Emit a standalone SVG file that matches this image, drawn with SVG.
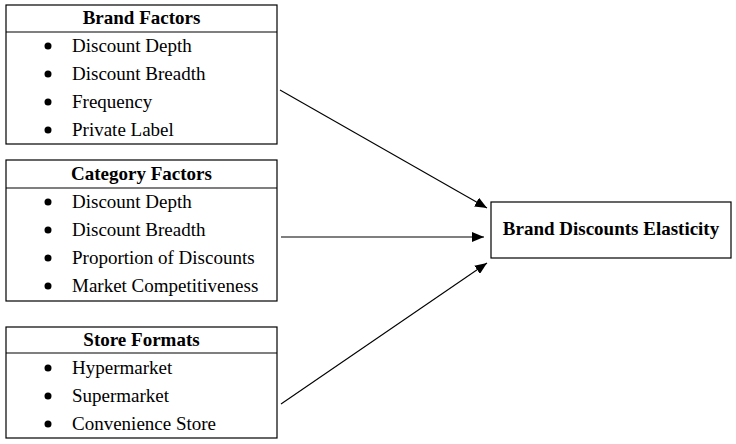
<svg xmlns="http://www.w3.org/2000/svg" width="736" height="444" viewBox="0 0 736 444">
<style>
.box{fill:#fff;stroke:#000;stroke-width:1.2}
.div{stroke:#000;stroke-width:1.2}
.h{font-family:"Liberation Serif","Times New Roman",serif;font-weight:bold;font-size:19px;text-anchor:middle;fill:#000}
.t{font-family:"Liberation Serif","Times New Roman",serif;font-size:19px;fill:#000}
.b{fill:#000}
.c{stroke:#000;stroke-width:1.1;fill:none}
</style>
<defs>
<marker id="ah" markerWidth="12" markerHeight="10" refX="12" refY="5" orient="auto" markerUnits="userSpaceOnUse">
<path d="M0,0 L12,5 L0,10 Z" fill="#000"/>
</marker>
</defs>
<g id="brand-factors">
<rect class="box" x="6" y="5" width="271" height="139"/>
<line class="div" x1="6" y1="32" x2="277" y2="32"/>
<text class="h" x="141.5" y="24">Brand Factors</text>
<circle class="b" cx="48" cy="46" r="3.5"/><text class="t" x="72" y="52">Discount Depth</text>
<circle class="b" cx="48" cy="74" r="3.5"/><text class="t" x="72" y="80">Discount Breadth</text>
<circle class="b" cx="48" cy="102" r="3.5"/><text class="t" x="72" y="108">Frequency</text>
<circle class="b" cx="48" cy="130" r="3.5"/><text class="t" x="72" y="136">Private Label</text>
</g>
<g id="category-factors">
<rect class="box" x="6" y="160" width="271" height="141"/>
<line class="div" x1="6" y1="188" x2="277" y2="188"/>
<text class="h" x="141.5" y="180">Category Factors</text>
<circle class="b" cx="48" cy="202" r="3.5"/><text class="t" x="72" y="208">Discount Depth</text>
<circle class="b" cx="48" cy="230" r="3.5"/><text class="t" x="72" y="236">Discount Breadth</text>
<circle class="b" cx="48" cy="258" r="3.5"/><text class="t" x="72" y="264">Proportion of Discounts</text>
<circle class="b" cx="48" cy="286" r="3.5"/><text class="t" x="72" y="292">Market Competitiveness</text>
</g>
<g id="store-formats">
<rect class="box" x="6" y="327" width="271" height="111"/>
<line class="div" x1="6" y1="353" x2="277" y2="353"/>
<text class="h" x="141.5" y="346">Store Formats</text>
<circle class="b" cx="48" cy="368" r="3.5"/><text class="t" x="72" y="374">Hypermarket</text>
<circle class="b" cx="48" cy="396" r="3.5"/><text class="t" x="72" y="402">Supermarket</text>
<circle class="b" cx="48" cy="424" r="3.5"/><text class="t" x="72" y="430">Convenience Store</text>
</g>
<g id="brand-discounts-elasticity">
<rect class="box" x="491" y="202" width="240" height="56"/>
<text class="h" x="611" y="235">Brand Discounts Elasticity</text>
</g>
<g id="connectors">
<line class="c" x1="280" y1="90" x2="487" y2="208" marker-end="url(#ah)"/>
<line class="c" x1="281" y1="237" x2="484" y2="237" marker-end="url(#ah)"/>
<line class="c" x1="281" y1="404" x2="487" y2="263" marker-end="url(#ah)"/>
</g>
</svg>
